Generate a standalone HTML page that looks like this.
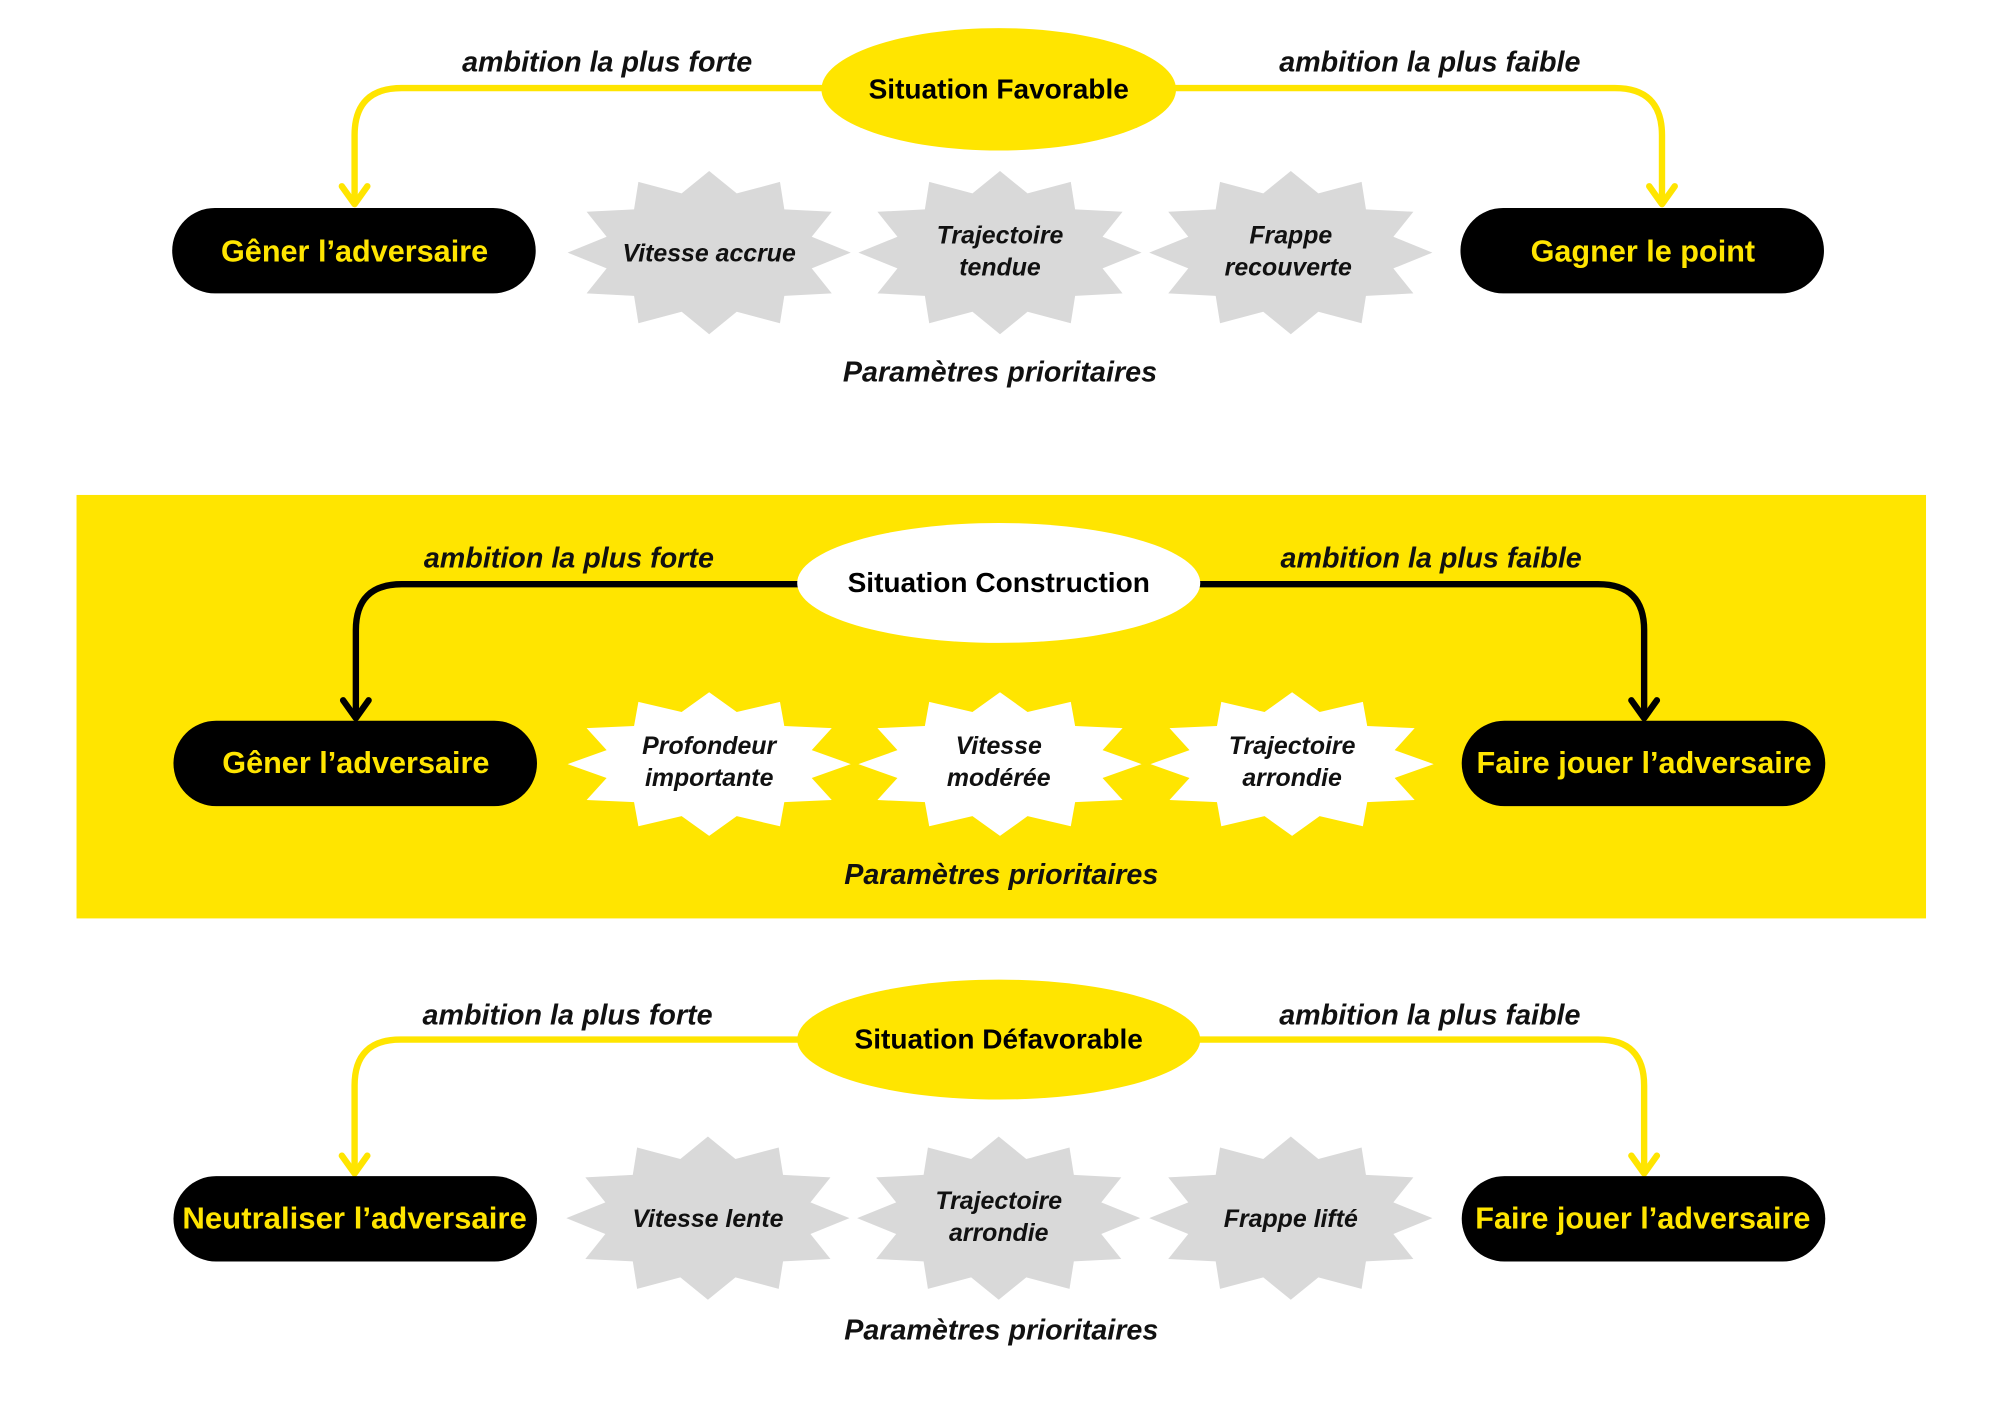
<!DOCTYPE html>
<html><head><meta charset="utf-8"><style>
html,body{margin:0;padding:0;background:#fff}
svg{display:block}
.lab{font-family:"Liberation Sans",sans-serif;font-style:italic;font-weight:bold;font-size:22.5px;fill:#111}
.pill{font-family:"Liberation Sans",sans-serif;font-weight:bold;font-size:24px;fill:#FFE500}
.ell{font-family:"Liberation Sans",sans-serif;font-weight:bold;font-size:22px;fill:#000}
.st{font-family:"Liberation Sans",sans-serif;font-style:italic;font-weight:bold;font-size:19.5px;fill:#111}
</style></head><body>
<svg width="2000" height="1414" viewBox="0 0 1568 1108.5" xmlns="http://www.w3.org/2000/svg">
<defs>
<polygon id="star" points="111,0 80.4,12.4 96.1,32 58.9,33.9 55.5,55.4 21.6,46.4 0,64 -21.6,46.4 -55.5,55.4 -58.9,33.9 -96.1,32 -80.4,12.4 -111,0 -80.4,-12.4 -96.1,-32 -58.9,-33.9 -55.5,-55.4 -21.6,-46.4 0,-64 21.6,-46.4 55.5,-55.4 58.9,-33.9 96.1,-32 80.4,-12.4"/>
</defs>
<rect width="1568" height="1108.5" fill="#fff"/>
<rect x="60" y="388" width="1450" height="332" fill="#FFE500"/>

<!-- Row 1 -->
<g fill="none" stroke="#FFE500" stroke-width="5" stroke-linecap="round" stroke-linejoin="round">
<path d="M645 69 H315 Q278 69 278 106 V158"/>
<path d="M268 146 L278 160 L288 146"/>
<path d="M920 69 H1266 Q1303 69 1303 106 V158"/>
<path d="M1293 146 L1303 160 L1313 146"/>
</g>
<ellipse cx="783" cy="70" rx="139" ry="48" fill="#FFE500"/>
<text class="ell" x="783" y="77" text-anchor="middle">Situation Favorable</text>
<text class="lab" x="476" y="56" text-anchor="middle">ambition la plus forte</text>
<text class="lab" x="1121" y="56" text-anchor="middle">ambition la plus faible</text>
<rect x="135" y="163" width="285" height="67" rx="33.5" fill="#000"/>
<text class="pill" x="278" y="205" text-anchor="middle">Gêner l’adversaire</text>
<rect x="1145" y="163" width="285" height="67" rx="33.5" fill="#000"/>
<text class="pill" x="1288" y="205" text-anchor="middle">Gagner le point</text>
<use href="#star" transform="translate(556,198)" fill="#D9D9D9"/>
<use href="#star" transform="translate(784,198)" fill="#D9D9D9"/>
<use href="#star" transform="translate(1012,198)" fill="#D9D9D9"/>
<text class="st" x="556" y="205" text-anchor="middle">Vitesse accrue</text>
<text class="st" x="784" y="191" text-anchor="middle">Trajectoire</text>
<text class="st" x="784" y="216" text-anchor="middle">tendue</text>
<text class="st" x="1012" y="191" text-anchor="middle">Frappe</text>
<text class="st" x="1010" y="216" text-anchor="middle">recouverte</text>
<text class="lab" x="784" y="299" text-anchor="middle">Paramètres prioritaires</text>

<!-- Row 2 -->
<g fill="none" stroke="#000" stroke-width="5" stroke-linecap="round" stroke-linejoin="round">
<path d="M630 458 H315 Q279 458 279 494 V561"/>
<path d="M269 549 L279 563 L289 549"/>
<path d="M940 458 H1253 Q1289 458 1289 494 V561"/>
<path d="M1279 549 L1289 563 L1299 549"/>
</g>
<ellipse cx="783" cy="457" rx="158" ry="47" fill="#fff"/>
<text class="ell" x="783" y="464" text-anchor="middle">Situation Construction</text>
<text class="lab" x="446" y="445" text-anchor="middle">ambition la plus forte</text>
<text class="lab" x="1122" y="445" text-anchor="middle">ambition la plus faible</text>
<rect x="136" y="565" width="285" height="67" rx="33.5" fill="#000"/>
<text class="pill" x="279" y="606" text-anchor="middle">Gêner l’adversaire</text>
<rect x="1146" y="565" width="285" height="67" rx="33.5" fill="#000"/>
<text class="pill" x="1289" y="606" text-anchor="middle">Faire jouer l’adversaire</text>
<use href="#star" transform="translate(556,599) scale(1,0.88)" fill="#fff"/>
<use href="#star" transform="translate(784,599) scale(1,0.88)" fill="#fff"/>
<use href="#star" transform="translate(1013,599) scale(1,0.88)" fill="#fff"/>
<text class="st" x="556" y="591" text-anchor="middle">Profondeur</text>
<text class="st" x="556" y="616" text-anchor="middle">importante</text>
<text class="st" x="783" y="591" text-anchor="middle">Vitesse</text>
<text class="st" x="783" y="616" text-anchor="middle">modérée</text>
<text class="st" x="1013" y="591" text-anchor="middle">Trajectoire</text>
<text class="st" x="1013" y="616" text-anchor="middle">arrondie</text>
<text class="lab" x="785" y="693" text-anchor="middle">Paramètres prioritaires</text>

<!-- Row 3 -->
<g fill="none" stroke="#FFE500" stroke-width="5" stroke-linecap="round" stroke-linejoin="round">
<path d="M630 815 H314 Q278 815 278 851 V918"/>
<path d="M268 906 L278 920 L288 906"/>
<path d="M940 815 H1253 Q1289 815 1289 851 V918"/>
<path d="M1279 906 L1289 920 L1299 906"/>
</g>
<ellipse cx="783" cy="815" rx="158" ry="47" fill="#FFE500"/>
<text class="ell" x="783" y="822" text-anchor="middle">Situation Défavorable</text>
<text class="lab" x="445" y="803" text-anchor="middle">ambition la plus forte</text>
<text class="lab" x="1121" y="803" text-anchor="middle">ambition la plus faible</text>
<rect x="136" y="922" width="285" height="67" rx="33.5" fill="#000"/>
<text class="pill" x="278" y="963" text-anchor="middle" textLength="270" lengthAdjust="spacingAndGlyphs">Neutraliser l’adversaire</text>
<rect x="1146" y="922" width="285" height="67" rx="33.5" fill="#000"/>
<text class="pill" x="1288" y="963" text-anchor="middle">Faire jouer l’adversaire</text>
<use href="#star" transform="translate(555,955)" fill="#D9D9D9"/>
<use href="#star" transform="translate(783,955)" fill="#D9D9D9"/>
<use href="#star" transform="translate(1012,955)" fill="#D9D9D9"/>
<text class="st" x="555" y="962" text-anchor="middle">Vitesse lente</text>
<text class="st" x="783" y="948" text-anchor="middle">Trajectoire</text>
<text class="st" x="783" y="973" text-anchor="middle">arrondie</text>
<text class="st" x="1012" y="962" text-anchor="middle">Frappe lifté</text>
<text class="lab" x="785" y="1050" text-anchor="middle">Paramètres prioritaires</text>
</svg>
</body></html>
